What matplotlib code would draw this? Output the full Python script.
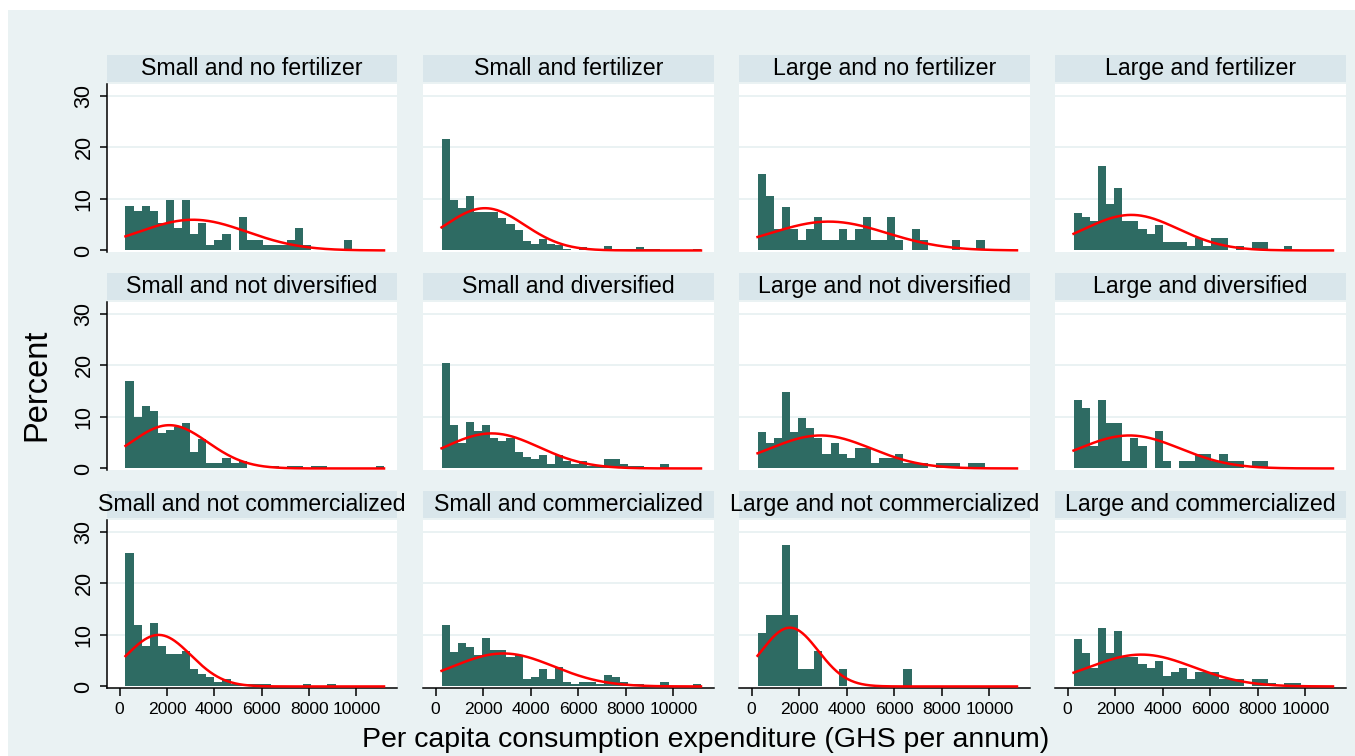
import numpy as np
import matplotlib
matplotlib.use("Agg")
import matplotlib.pyplot as plt
from matplotlib.patches import Rectangle

plt.rcParams['font.family'] = ['Liberation Sans', 'DejaVu Sans']

# ---- data -------------------------------------------------------------
titles = [
    "Small and no fertilizer", "Small and fertilizer",
    "Large and no fertilizer", "Large and fertilizer",
    "Small and not diversified", "Small and diversified",
    "Large and not diversified", "Large and diversified",
    "Small and not commercialized", "Small and commercialized",
    "Large and not commercialized", "Large and commercialized",
]

# shared histogram bins (GHS per annum)
bin_start = 250
bin_width = 341
n_bins = 32

# percent of households in each bin
pct_small_nofert = [8.6, 7.6, 8.6, 7.6, 5.4, 9.7, 4.3, 9.7, 3.2, 5.4, 1.1, 2.1, 3.2, 0, 6.5, 2.1,
                    2.1, 1.1, 1.1, 1.1, 2.1, 4.3, 1.1, 0, 0, 0, 0, 2.1, 0, 0, 0, 0]
pct_small_fert = [21.6, 9.7, 8.2, 10.6, 7.5, 7.5, 7.5, 6.3, 5.1, 4.0, 1.9, 1.2, 2.2, 1.2, 1.0, 0.3,
                  0, 0.6, 0.3, 0.2, 0.9, 0.3, 0.3, 0.3, 0.6, 0.3, 0.3, 0, 0, 0, 0, 0.3]
pct_large_nofert = [14.9, 10.6, 4.2, 8.5, 4.2, 2.1, 4.2, 6.4, 2.1, 2.1, 4.2, 2.1, 4.2, 6.4, 2.1, 2.1,
                    6.4, 2.1, 0, 4.2, 2.1, 0, 0, 0, 2.1, 0, 0, 2.1, 0, 0, 0, 0]
pct_large_fert = [7.3, 6.5, 5.8, 16.4, 9.0, 12.2, 5.8, 5.8, 4.1, 3.2, 4.9, 1.6, 1.6, 1.6, 0.8, 2.5,
                  0.8, 2.5, 2.5, 0, 0.8, 0, 1.6, 1.6, 0, 0, 0.8, 0, 0, 0, 0, 0]
pct_small_nodiv = [16.9, 10.0, 12.2, 11.1, 6.9, 7.4, 8.0, 8.9, 3.2, 5.8, 1.0, 1.0, 2.1, 1.0, 1.5, 0,
                   0, 0, 0.5, 0, 0.5, 0.5, 0, 0.5, 0.5, 0, 0, 0, 0, 0, 0, 0.5]
pct_small_div = [20.4, 8.5, 4.9, 9.0, 7.2, 8.5, 5.9, 5.4, 5.9, 3.2, 2.2, 1.8, 2.7, 0.9, 2.7, 1.4,
                 0.9, 1.4, 0.5, 0.5, 1.8, 1.8, 0.9, 0.5, 0.5, 0, 0, 0.9, 0, 0, 0, 0]
pct_large_nodiv = [7.0, 5.0, 5.9, 14.9, 7.0, 9.8, 7.9, 5.9, 2.9, 4.9, 2.9, 2.0, 3.9, 3.9, 1.0, 2.0,
                   2.0, 2.9, 1.0, 1.0, 1.0, 0, 1.0, 1.0, 1.0, 0, 1.0, 1.0, 0, 0, 0, 0]
pct_large_div = [13.2, 11.8, 4.3, 13.2, 8.8, 8.8, 1.5, 5.9, 4.4, 0, 7.3, 1.5, 0, 1.5, 1.5, 2.9,
                 2.9, 1.5, 2.9, 1.5, 1.5, 0, 1.5, 1.5, 0, 0, 0, 0, 0, 0, 0, 0]
pct_small_nocomm = [25.8, 11.9, 7.9, 12.3, 7.9, 6.3, 6.3, 6.9, 3.4, 2.4, 1.9, 0.9, 1.4, 0.5, 0.5, 0.5,
                    0.5, 0.5, 0, 0, 0, 0, 0.5, 0, 0, 0.5, 0, 0, 0, 0, 0, 0]
pct_small_comm = [11.9, 6.7, 8.5, 7.6, 6.2, 9.4, 7.1, 7.1, 5.8, 6.2, 1.4, 1.8, 3.3, 1.4, 3.7, 0.9,
                  0.5, 0.9, 0.9, 0.5, 2.3, 1.8, 0.9, 0.5, 0.5, 0, 0, 0.9, 0, 0, 0, 0.5]
pct_large_nocomm = [10.3, 13.8, 13.8, 27.5, 13.8, 3.4, 3.4, 6.9, 0, 0, 3.4, 0, 0, 0, 0, 0,
                    0, 0, 3.4, 0, 0, 0, 0, 0, 0, 0, 0, 0, 0, 0, 0, 0]
pct_large_comm = [9.2, 6.4, 3.6, 11.4, 6.4, 10.7, 5.7, 5.7, 4.3, 3.6, 5.0, 2.1, 2.8, 3.6, 1.4, 2.8,
                  2.8, 2.8, 1.4, 1.4, 1.4, 0, 1.4, 1.4, 0.7, 0, 0.7, 0.7, 0, 0, 0, 0]

percents = [pct_small_nofert, pct_small_fert, pct_large_nofert, pct_large_fert,
            pct_small_nodiv, pct_small_div, pct_large_nodiv, pct_large_div,
            pct_small_nocomm, pct_small_comm, pct_large_nocomm, pct_large_comm]

# normal-density overlay parameters per group
means = [3100, 2075, 3250, 2680, 2100, 2356, 2900, 2600, 1650, 2850, 1610, 3100]
sds = [2283, 1659, 2430, 1972, 1620, 2000, 2125, 2125, 1360, 2125, 1193, 2200]

x_ticks = [0, 2000, 4000, 6000, 8000, 10000]
y_ticks = [0, 10, 20, 30]

# ---- styling ----------------------------------------------------------
BG = "#eaf2f3"
STRIP = "#d9e6eb"
BAR = "#2e6b63"
GRID = "#eaf2f3"

W, H = 1355, 756
fig = plt.figure(figsize=(W / 100, H / 100), dpi=100)
fig.patch.set_facecolor("white")
fig.patches.append(Rectangle((8 / W, 0), 1 - 8 / W, 1 - 10 / H, transform=fig.transFigure,
                             facecolor=BG, edgecolor="none", zorder=-10))


def frac(l, t, r, b):
    return [l / W, 1 - b / H, (r - l) / W, (b - t) / H]


col_l = [107, 423, 739, 1055]
col_r = [397, 714, 1030, 1346]
row_t = [84, 302, 520]
row_b = [252, 470, 688]
strip_h = 27
strip_gap = 2

edges = bin_start + bin_width * np.arange(n_bins + 1)
x_curve = np.linspace(edges[0], edges[-1], 300)

for k in range(12):
    i, j = divmod(k, 4)
    ax = fig.add_axes(frac(col_l[j], row_t[i], col_r[j], row_b[i]))
    ax.set_facecolor("white")
    ax.bar(edges[:-1], percents[k], width=bin_width, align="edge",
           color=BAR, linewidth=0, zorder=2)
    dens = 100 * bin_width * np.exp(-0.5 * ((x_curve - means[k]) / sds[k]) ** 2) / (sds[k] * np.sqrt(2 * np.pi))
    ax.plot(x_curve, dens, color="red", lw=1.8, zorder=3)

    ax.set_xlim(-530, 11710)
    ax.set_ylim(-0.3, 32.3)
    for y in [10, 20, 30]:
        ax.axhline(y, color=GRID, lw=1.4, zorder=1)

    for s in ["top", "right"]:
        ax.spines[s].set_visible(False)
    ax.spines["left"].set_visible(j == 0)
    ax.spines["bottom"].set_visible(i == 2)
    ax.spines["left"].set_linewidth(1.1)
    ax.spines["bottom"].set_linewidth(1.1)

    ax.set_yticks(y_ticks)
    ax.set_xticks(x_ticks)
    if j == 0:
        ax.set_yticklabels([str(v) for v in y_ticks], rotation=90, va="center", fontsize=15.5)
        ax.tick_params(axis="y", length=5, width=1.1, pad=4)
    else:
        ax.tick_params(axis="y", left=False, labelleft=False)
    if i == 2:
        ax.set_xticklabels([str(v) for v in x_ticks], fontsize=12.6)
        ax.tick_params(axis="x", length=6, width=1.1, pad=4)
    else:
        ax.tick_params(axis="x", bottom=False, labelbottom=False)

    sax = fig.add_axes(frac(col_l[j], row_t[i] - strip_gap - strip_h, col_r[j], row_t[i] - strip_gap))
    sax.set_facecolor(STRIP)
    sax.set_xticks([])
    sax.set_yticks([])
    for s in sax.spines.values():
        s.set_visible(False)
    sax.text(0.5, 0.5, titles[k], ha="center", va="center", fontsize=16.7, transform=sax.transAxes)

fig.text(37 / W, 1 - 385 / H, "Percent", rotation=90, ha="center", va="center", fontsize=23.5)
fig.text(706 / W, 1 - 740 / H, "Per capita consumption expenditure (GHS per annum)",
         ha="center", va="center", fontsize=20.5)

fig.savefig("out.png", dpi=100, facecolor=fig.get_facecolor())
